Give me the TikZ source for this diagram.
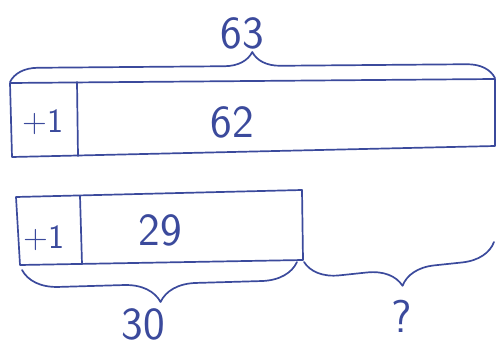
\documentclass[tikz,border=0pt]{standalone}
\usepackage{fontspec}
\setmainfont{DejaVu Sans}
\usetikzlibrary{decorations.pathreplacing}
\definecolor{ink}{HTML}{3B4A9C}
\tikzset{
  ink line/.style={draw=ink, line width=1.7pt, line join=round, line cap=round},
  lbl/.style={text=ink, font=\fontsize{46}{46}\selectfont\sffamily, inner sep=0pt},
  small lbl/.style={text=ink, font=\fontsize{34}{34}\selectfont\sffamily, inner sep=0pt},
  bracedec/.style={ink line, decorate, decoration={brace, amplitude=#1}}
}
\begin{document}
\begin{tikzpicture}[x=1pt,y=-1pt]
\useasboundingbox (0,0) rectangle (498,350);
% top tape
\coordinate (t1) at (10,83);
\coordinate (t2) at (495,79);
\coordinate (t3) at (495,146);
\coordinate (t4) at (12,157);
\draw[ink line] (t1) -- (t2) -- (t3) -- (t4) -- cycle;
\draw[ink line] (77,82) -- (78,156);
\node[small lbl] (p1a) at (43,122) {+1};
\node[lbl] (n62) at (232,122) {62};
% top brace
\draw[bracedec=28pt] (10,82) -- (495,78);
\node[lbl] (n63) at (242,33) {63};
% bottom tape
\draw[ink line] (16,197) -- (302,190) -- (303,260) -- (20,265) -- cycle;
\draw[ink line] (80,196) -- (82,264);
\node[small lbl] (p1b) at (44,238) {+1};
\node[lbl] (n29) at (160,230) {29};
% braces below
\draw[bracedec=36pt] (297,262) -- (22,270);
\node[lbl] (n30) at (143,324) {30};
\draw[bracedec=34pt] (494,242) -- (304,262);
\node[lbl] (q) at (402,316) {?};
\end{tikzpicture}
\end{document}
